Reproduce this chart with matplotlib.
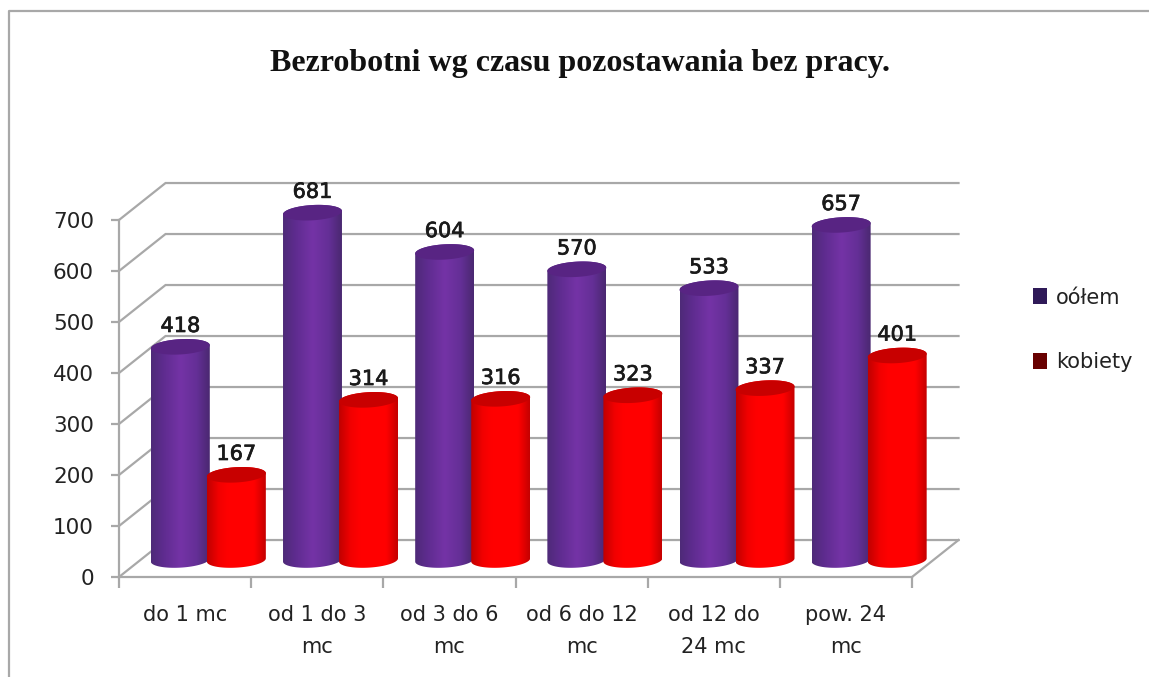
import numpy as np
import matplotlib
matplotlib.use("Agg")
import matplotlib.pyplot as plt
import matplotlib.patheffects as pe
from matplotlib.colors import LinearSegmentedColormap
from matplotlib.lines import Line2D
from matplotlib.patches import Patch, PathPatch, Polygon
from matplotlib.path import Path

TITLE = "Bezrobotni wg czasu pozostawania bez pracy."
categories = ["do 1 mc", "od 1 do 3\nmc", "od 3 do 6\nmc", "od 6 do 12\nmc",
              "od 12 do\n24 mc", "pow. 24\nmc"]
ogolem = [418, 681, 604, 570, 533, 657]
kobiety = [167, 314, 316, 323, 337, 401]
series_names = ["oółem", "kobiety"]
y_ticks = [0, 100, 200, 300, 400, 500, 600, 700]

W, H = 1149, 677
GRID = "#a8a8a8"
TEXT = "#222222"
fig = plt.figure(figsize=(W / 100, H / 100), dpi=100)
ax = fig.add_axes([119 / W, (H - 577) / H, (912 - 119) / W, (577 - 220) / H])
ax.set_xlim(0, 6)
ax.set_ylim(0, 700)

# Oblique depth of the pseudo-3D box, in data units
DX, DY = 0.352, 72.5

for t in y_ticks:
    ax.plot([0, DX, 6 + DX], [t, t + DY, t + DY], color=GRID, lw=1.6,
            clip_on=False, zorder=1, solid_joinstyle="miter")
ax.plot([6, 6 + DX], [0, DY], color=GRID, lw=1.6, clip_on=False, zorder=1)

for s in ("top", "right"):
    ax.spines[s].set_visible(False)
for s in ("left", "bottom"):
    ax.spines[s].set_color(GRID)
    ax.spines[s].set_linewidth(1.6)
    ax.spines[s].set_zorder(1.5)

ax.set_yticks(y_ticks)
ax.set_xticks(range(7))
ax.set_xticklabels([""] * 7)
ax.set_xticks(np.arange(6) + 0.5, minor=True)
ax.set_xticklabels(categories, minor=True, fontsize=15, color=TEXT, linespacing=1.75)
ax.tick_params(axis="x", which="major", length=8, width=1.6, color=GRID)
ax.tick_params(axis="x", which="minor", length=0, pad=20)
ax.tick_params(axis="y", length=6, width=1.6, color=GRID, pad=12, labelsize=15.5,
               labelcolor=TEXT)


def cylinder(xc, value, stops, cap, z):
    r, eh, tilt = 0.223, 15.0, 3.2
    y0 = DY * 0.46
    y1 = y0 + value
    t = np.linspace(0, np.pi, 60)
    top_x, top_y = xc + r * np.cos(t), y1 + eh * np.sin(t) + tilt * np.cos(t)
    bot_x, bot_y = xc - r * np.cos(t), y0 - eh * np.sin(t) - tilt * np.cos(t)
    verts = np.vstack([np.c_[top_x, top_y], np.c_[bot_x, bot_y], [[top_x[0], top_y[0]]]])
    path = Path(verts, closed=True)
    cmap = LinearSegmentedColormap.from_list("c", stops)
    im = ax.imshow(np.linspace(0, 1, 256)[None, :], cmap=cmap, aspect="auto",
                   extent=(xc - r, xc + r, y0 - eh - tilt, y1 + eh + tilt),
                   origin="lower", zorder=z, interpolation="bilinear")
    im.set_clip_path(PathPatch(path, transform=ax.transData))
    im.set_clip_box(fig.bbox)
    t2 = np.linspace(0, 2 * np.pi, 120)
    ax.add_patch(Polygon(np.c_[xc + r * np.cos(t2), y1 + eh * np.sin(t2) + tilt * np.cos(t2)],
                         closed=True, facecolor=cap, edgecolor="none", zorder=z + 0.1,
                         clip_on=False))
    ax.annotate(str(value), (xc, y1), xytext=(0, 15), textcoords="offset points",
                ha="center", va="center", fontsize=15, color="#1a1a1a", zorder=20,
                annotation_clip=False,
                path_effects=[pe.withStroke(linewidth=0.5, foreground="#1a1a1a")])


purple = [(0, "#4e2a78"), (0.22, "#5f2c90"), (0.5, "#7433a6"), (0.78, "#642f96"), (1, "#4a2870")]
red = [(0, "#c00000"), (0.2, "#f20000"), (0.35, "#ff0000"), (0.8, "#ff0000"), (1, "#c40000")]

for i in range(6):
    centre = i + 0.5 + DX / 2
    cylinder(centre - 0.212, ogolem[i], purple, "#582483", 3 + i)
    cylinder(centre + 0.212, kobiety[i], red, "#c80000", 3.5 + i)

ax.set_xlim(0, 6)
ax.set_ylim(0, 700)

fig.text(580 / W, 1 - 64 / H, TITLE, ha="center", va="center", fontsize=23,
         fontweight="bold", family="Liberation Serif", color="#111111")

handles = [Patch(facecolor="#2f1a58", edgecolor="none"), Patch(facecolor="#680000", edgecolor="none")]
fig.legend(handles, series_names, loc="center left", bbox_to_anchor=(1029 / W, 1 - 330 / H),
           frameon=False, fontsize=15, labelcolor=TEXT, handlelength=0.68, handleheight=0.8,
           handletextpad=0.4, labelspacing=2.15, borderpad=0.2, borderaxespad=0)

fig.add_artist(Line2D([9 / W, 9 / W, 1], [0, 1 - 11 / H, 1 - 11 / H], color="#a8a8a8", lw=1.6,
                      transform=fig.transFigure))
fig.savefig("out.png", dpi=100)
